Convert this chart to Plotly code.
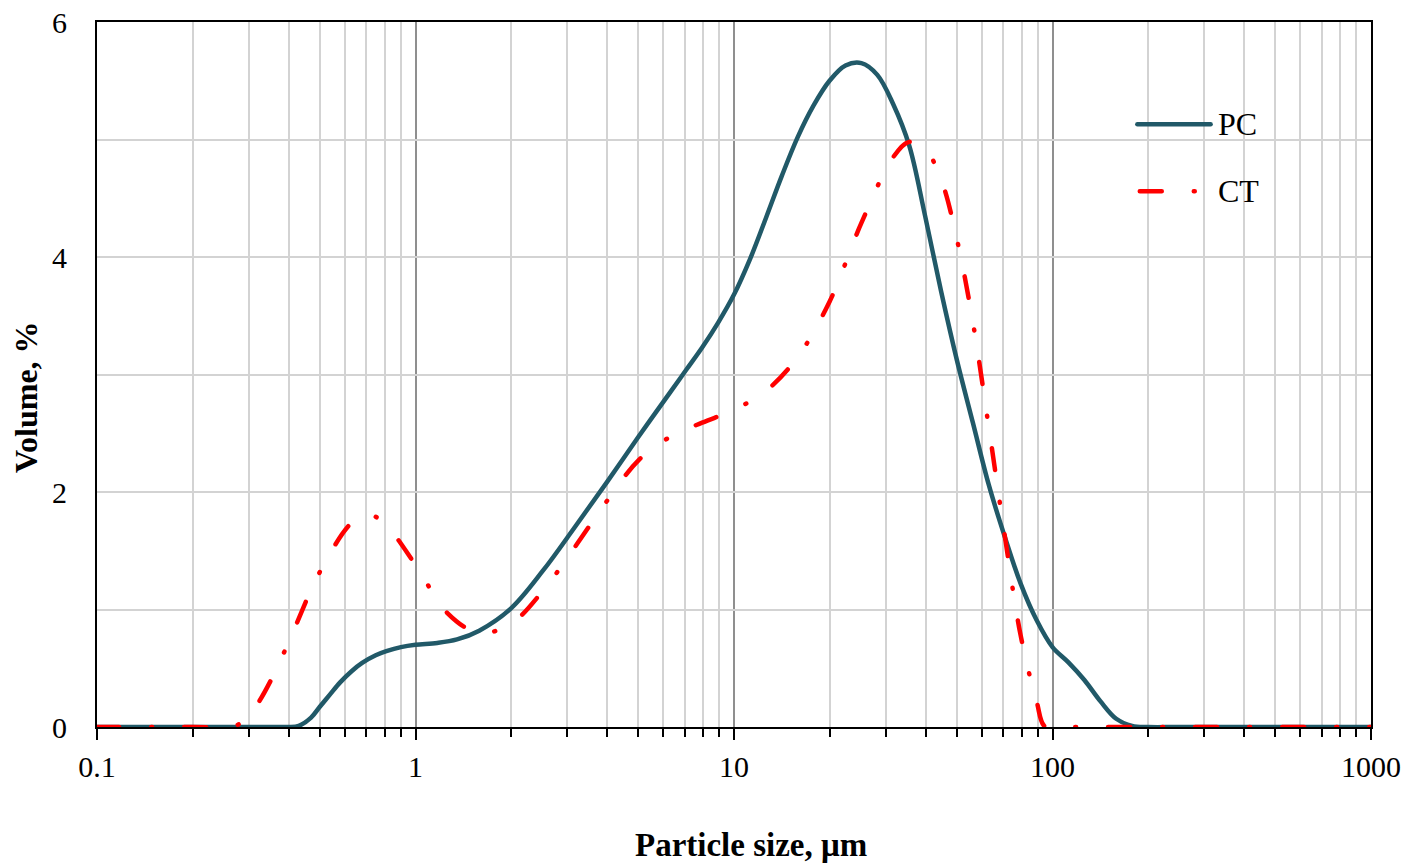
import plotly.graph_objects as go

# ---- data ----
pc_size = [0.1, 0.2, 0.3, 0.35, 0.398, 0.43, 0.47, 0.5, 0.54, 0.58, 0.63, 0.68, 0.75, 0.81, 0.9,
           1.0, 1.17, 1.35, 1.585, 1.995, 2.512, 3.162, 3.981, 5.012, 6.31, 7.08, 7.943, 8.91,
           10, 11.22, 12.59, 14.13, 15.85, 17.78, 19.95, 22.39, 25.12, 28.18, 31.62, 35.48,
           39.81, 44.67, 50.12, 56.23, 63.1, 70.8, 79.43, 89.1, 100, 112.2, 125.9, 141.3,
           158.5, 177.8, 199.5, 251, 1000]
pc_vol = [0, 0, 0, 0, 0.0, 0.01, 0.08, 0.17, 0.28, 0.38, 0.475, 0.545, 0.61, 0.645, 0.68,
          0.70, 0.715, 0.745, 0.82, 1.01, 1.33, 1.70, 2.08, 2.47, 2.85, 3.04, 3.23, 3.44,
          3.68, 3.98, 4.33, 4.69, 5.02, 5.29, 5.50, 5.63, 5.65, 5.55, 5.30, 4.95,
          4.35, 3.71, 3.12, 2.59, 2.06, 1.62, 1.22, 0.91, 0.68, 0.55, 0.40, 0.22,
          0.07, 0.01, 0, 0, 0]

ct_size = [0.1, 0.2, 0.251, 0.282, 0.316, 0.355, 0.398, 0.501, 0.631, 0.708, 0.794, 1.0, 1.259,
           1.585, 1.995, 2.512, 3.162, 3.981, 5.012, 6.31, 7.943, 10, 12.59, 15.85, 19.95,
           25.12, 31.62, 35.5, 39.81, 44.7, 50.12, 56.2, 63.1, 70.8, 79.43, 89.1, 95, 112, 1000]
ct_vol = [0, 0, 0, 0.03, 0.18, 0.42, 0.71, 1.32, 1.74, 1.81, 1.74, 1.38, 0.97,
          0.80, 0.88, 1.16, 1.53, 1.92, 2.27, 2.47, 2.59, 2.70, 2.86, 3.15, 3.62,
          4.29, 4.85, 4.98, 4.92, 4.66, 4.15, 3.45, 2.55, 1.63, 0.78, 0.22, 0.0, 0, 0]

x_major = [0.1, 1, 10, 100, 1000]
x_major_text = ["0.1", "1", "10", "100", "1000"]
x_minor = [m * d for d in [0.1, 1, 10, 100] for m in range(2, 10)]
y_ticks = [0, 1, 2, 3, 4, 5, 6]
y_ticktext = ["0", "", "2", "", "4", "", "6"]

PC_COLOR = "#215968"
CT_COLOR = "#FF0000"
CT_DASH = "22px,32px,1px,32px"
FONT = "Liberation Serif, Times New Roman, serif"

fig = go.Figure()
fig.add_trace(go.Scatter(x=pc_size, y=pc_vol, mode="lines", name="PC",
                         line=dict(color=PC_COLOR, width=4.5, shape="spline", smoothing=1.0)))
fig.add_trace(go.Scatter(x=ct_size, y=ct_vol, mode="lines", name="CT",
                         line=dict(color=CT_COLOR, width=4.5, dash=CT_DASH, shape="spline", smoothing=1.0)))

# manual legend (long sample lines like the original)
fig.add_shape(type="line", xref="paper", yref="paper", x0=0.8166, x1=0.8741, y0=0.855, y1=0.855,
              line=dict(color=PC_COLOR, width=4.5))
fig.add_shape(type="line", xref="paper", yref="paper", x0=0.8185, x1=0.8626, y0=0.760, y1=0.760,
              line=dict(color=CT_COLOR, width=4.5, dash=CT_DASH))
fig.add_annotation(text="PC", xref="paper", yref="paper", x=0.8783, y=0.855, xanchor="left",
                   yanchor="middle", showarrow=False, font=dict(family=FONT, size=32, color="black"))
fig.add_annotation(text="CT", xref="paper", yref="paper", x=0.8783, y=0.760, xanchor="left",
                   yanchor="middle", showarrow=False, font=dict(family=FONT, size=32, color="black"))

# axis titles (placed as in the original, slightly off-centre)
fig.add_annotation(text="<b>Particle size, μm</b>", xref="paper", yref="paper", x=0.5137, y=-0.1674,
                   xanchor="center", yanchor="middle", showarrow=False,
                   font=dict(family=FONT, size=33, color="black"))
fig.add_annotation(text="<b>Volume, %</b>", xref="paper", yref="paper", x=-0.0557, y=0.468,
                   xanchor="center", yanchor="middle", showarrow=False, textangle=-90,
                   font=dict(family=FONT, size=32, color="black"))

fig.update_layout(
    width=1422, height=867,
    margin=dict(l=97, r=51, t=22, b=140),
    paper_bgcolor="white", plot_bgcolor="white",
    showlegend=False,
    font=dict(family=FONT, size=30, color="black"),
    xaxis=dict(
        type="log", range=[-1, 3], automargin=False,
        tickmode="array", tickvals=x_major, ticktext=x_major_text,
        ticks="outside", ticklen=11, tickwidth=1.5, tickcolor="black",
        ticklabelstandoff=1,
        showgrid=True, gridcolor="#8f8f8f", gridwidth=1.5,
        minor=dict(tickmode="array", tickvals=x_minor, ticks="outside", ticklen=8,
                   tickwidth=1.5, tickcolor="black",
                   showgrid=True, gridcolor="#d3d3d3", gridwidth=2),
        showline=True, linecolor="black", linewidth=2, mirror=True,
        zeroline=False, layer="below traces",
    ),
    yaxis=dict(
        range=[0, 6], automargin=False,
        tickmode="array", tickvals=y_ticks, ticktext=y_ticktext,
        ticks="", ticklabelstandoff=22,
        showgrid=True, gridcolor="#d3d3d3", gridwidth=2,
        showline=True, linecolor="black", linewidth=2, mirror=True,
        zeroline=False, layer="below traces",
    ),
)

fig.write_html("out.html", post_script=(
    "document.querySelectorAll('.js-line, .shapelayer path').forEach("
    "function(p){p.style.strokeLinecap='round';});"))
